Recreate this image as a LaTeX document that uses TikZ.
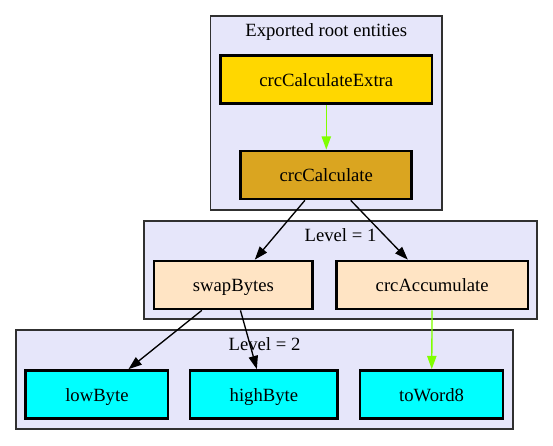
\documentclass[tikz,border=0pt]{standalone}
\usepackage{fontspec}
\setmainfont{Liberation Serif}
\usetikzlibrary{arrows.meta}
\definecolor{gvgold}{HTML}{FFD700}
\definecolor{gvgoldenrod}{HTML}{DAA520}
\definecolor{gvbisque}{HTML}{FFE4C4}
\definecolor{gvcyan}{HTML}{00FFFF}
\definecolor{gvlavender}{HTML}{E6E6FA}
\definecolor{gvchartreuse}{HTML}{7FFF00}
\definecolor{gvborder}{HTML}{303030}
\begin{document}
\begin{tikzpicture}[x=1pt,y=-1pt,
  every node/.style={font=\fontsize{18.67}{22}\selectfont},
  cluster/.style={draw=gvborder,fill=gvlavender,line width=1.33pt,inner sep=0pt},
  clabel/.style={anchor=base,inner sep=0pt},
  box/.style={draw=black,line width=2.67pt,inner sep=0pt,text height=13pt,text depth=0pt,minimum height=48pt},
  edge/.style={line width=1.33pt,-{Triangle[length=13.3pt,width=9.3pt]}},
  greenedge/.style={edge,draw=gvchartreuse,fill=gvchartreuse}
]
\useasboundingbox (0,0) rectangle (553,445);
% clusters
\node[cluster,minimum width=231.3pt,minimum height=194pt] (c0) at (326.3,113) {};
\node[clabel] (c0lab) at (326.3,36) {Exported root entities};
\node[cluster,minimum width=393pt,minimum height=98pt] (c1) at (340.5,270) {};
\node[clabel] (c1lab) at (340.5,241.5) {Level = 1};
\node[cluster,minimum width=497pt,minimum height=99pt] (c2) at (264.5,379.5) {};
\node[clabel] (c2lab) at (264.5,350) {Level = 2};
% nodes
\node[box,fill=gvgold,minimum width=211.3pt] (extra) at (326.3,79.7) {crcCalculateExtra};
\node[box,fill=gvgoldenrod,minimum width=171pt] (calc) at (326.3,175) {crcCalculate};
\node[box,fill=gvbisque,minimum width=158.7pt] (swap) at (233.4,285) {swapBytes};
\node[box,fill=gvbisque,minimum width=191.3pt] (accum) at (432.2,285) {crcAccumulate};
\node[box,fill=gvcyan,minimum width=142.3pt] (low) at (96.9,394.5) {lowByte};
\node[box,fill=gvcyan,minimum width=147.7pt] (high) at (263.9,394.5) {highByte};
\node[box,fill=gvcyan,minimum width=143pt] (word) at (431.6,394.5) {toWord8};
% edges
\draw[greenedge] (extra) -- (calc);
\draw[edge] (calc) -- (swap);
\draw[edge] (calc) -- (accum);
\draw[edge] (swap) -- (low);
\draw[edge] (swap) -- (high);
\draw[greenedge] (accum) -- (word);
\end{tikzpicture}
\end{document}
